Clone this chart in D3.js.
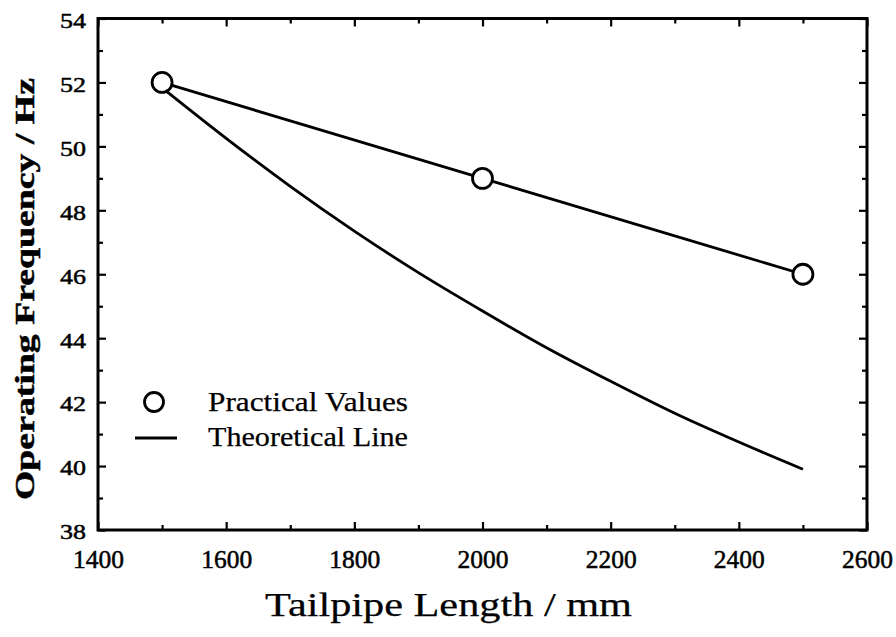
<!DOCTYPE html>
<html>
<head>
<meta charset="utf-8">
<script src="https://cdn.jsdelivr.net/npm/d3@7"></script>
<style>
  html, body { margin: 0; padding: 0; background: #fff; }
  svg { display: block; }
  svg text { font-family: "Liberation Serif", "Times New Roman", Times, Tinos, serif; fill: #000; stroke: #000; stroke-width: 0.5px; }
  svg text.big { stroke-width: 0.25px; }
</style>
</head>
<body>
<svg id="chart" width="896" height="637"></svg>
<script>
// ---- data ----
const xTicks = [1400, 1600, 1800, 2000, 2200, 2400, 2600];
const xMinorTicks = [1500, 1700, 1900, 2100, 2300, 2500];
const yTicks = [38, 40, 42, 44, 46, 48, 50, 52, 54];
const yMinorTicks = [39, 41, 43, 45, 47, 49, 51, 53];

const practicalLength = [1500, 2000, 2500];
const practicalFreq = [52, 49, 46];

const theoreticalLength = [1505, 1600, 1700, 1800, 1900, 2000, 2100, 2200, 2300, 2400, 2500];
const theoreticalFreq = [51.75, 50.25, 48.75, 47.35, 46.05, 44.85, 43.7, 42.65, 41.65, 40.75, 39.9];

const xTitle = "Tailpipe Length / mm";
const yTitle = "Operating Frequency / Hz";
const legendLabels = ["Practical Values", "Theoretical Line"];

// ---- layout ----
const FONT = '"Liberation Serif", "Times New Roman", Times, Tinos, serif';
const svg = d3.select("#chart");
const L = 98, R = 867, T = 18.5, B = 530;
const x = d3.scaleLinear().domain([1400, 2600]).range([L, R]);
const y = d3.scaleLinear().domain([38, 54]).range([B, T]);

const axisW = 3;
const lineW = 2.8;

function styleAxis(g) {
  g.attr("font-family", FONT);
  g.select(".domain").remove();
  g.selectAll(".tick line").attr("stroke", "#000").attr("stroke-width", 2.2);
}

// bottom major
svg.append("g").attr("transform", `translate(0,${B})`)
  .call(d3.axisBottom(x).tickValues(xTicks).tickSize(-8).tickFormat(d3.format("d")))
  .call(styleAxis)
  .call(g => g.selectAll("text").attr("y", 38).attr("dy", 0)
    .attr("textLength", 51).attr("lengthAdjust", "spacingAndGlyphs")
    .style("font-size", "25px"));
// bottom minor
svg.append("g").attr("transform", `translate(0,${B})`)
  .call(d3.axisBottom(x).tickValues(xMinorTicks).tickSize(-5).tickFormat(""))
  .call(styleAxis);
// top
svg.append("g").attr("transform", `translate(0,${T})`)
  .call(d3.axisTop(x).tickValues(xTicks).tickSize(-8).tickFormat(""))
  .call(styleAxis);
svg.append("g").attr("transform", `translate(0,${T})`)
  .call(d3.axisTop(x).tickValues(xMinorTicks).tickSize(-5).tickFormat(""))
  .call(styleAxis);
// left
svg.append("g").attr("transform", `translate(${L},0)`)
  .call(d3.axisLeft(y).tickValues(yTicks).tickSize(-8).tickFormat(d3.format("d")))
  .call(styleAxis)
  .call(g => g.selectAll("text").attr("x", -12).attr("dy", "0.4em")
    .attr("textLength", 26).attr("lengthAdjust", "spacingAndGlyphs")
    .style("font-size", "22px"));
svg.append("g").attr("transform", `translate(${L},0)`)
  .call(d3.axisLeft(y).tickValues(yMinorTicks).tickSize(-5).tickFormat(""))
  .call(styleAxis);
// right
svg.append("g").attr("transform", `translate(${R},0)`)
  .call(d3.axisRight(y).tickValues(yTicks).tickSize(-8).tickFormat(""))
  .call(styleAxis);
svg.append("g").attr("transform", `translate(${R},0)`)
  .call(d3.axisRight(y).tickValues(yMinorTicks).tickSize(-5).tickFormat(""))
  .call(styleAxis);

// frame
svg.append("rect")
  .attr("x", L).attr("y", T).attr("width", R - L).attr("height", B - T)
  .attr("fill", "none").attr("stroke", "#000").attr("stroke-width", axisW);

// practical line + markers
const practical = practicalLength.map((d, i) => [d, practicalFreq[i]]);
svg.append("path")
  .datum(practical)
  .attr("fill", "none").attr("stroke", "#000").attr("stroke-width", lineW)
  .attr("d", d3.line().x(d => x(d[0])).y(d => y(d[1])));
svg.selectAll("circle.pv").data(practical).enter().append("circle")
  .attr("class", "pv")
  .attr("cx", d => x(d[0])).attr("cy", d => y(d[1])).attr("r", 10)
  .attr("fill", "#fff").attr("stroke", "#000").attr("stroke-width", lineW);

// theoretical line
const theo = theoreticalLength.map((d, i) => [d, theoreticalFreq[i]]);
svg.append("path")
  .datum(theo)
  .attr("fill", "none").attr("stroke", "#000").attr("stroke-width", lineW)
  .attr("d", d3.line().curve(d3.curveMonotoneX).x(d => x(d[0])).y(d => y(d[1])));

// legend
svg.append("circle").attr("cx", 154).attr("cy", 402).attr("r", 9.5)
  .attr("fill", "#fff").attr("stroke", "#000").attr("stroke-width", lineW);
svg.append("line").attr("x1", 135).attr("x2", 177).attr("y1", 438).attr("y2", 438)
  .attr("stroke", "#000").attr("stroke-width", lineW);
svg.append("text").attr("class", "big").attr("x", 208).attr("y", 411).attr("font-family", FONT)
  .attr("textLength", 200).attr("lengthAdjust", "spacingAndGlyphs")
  .style("font-size", "28px").text(legendLabels[0]);
svg.append("text").attr("class", "big").attr("x", 208).attr("y", 446).attr("font-family", FONT)
  .attr("textLength", 200).attr("lengthAdjust", "spacingAndGlyphs")
  .style("font-size", "28px").text(legendLabels[1]);

// axis titles
svg.append("text").attr("class", "big").attr("x", 265).attr("y", 616).attr("font-family", FONT)
  .attr("textLength", 367).attr("lengthAdjust", "spacingAndGlyphs")
  .style("font-size", "34px").text(xTitle);
svg.append("text").attr("font-family", FONT)
  .attr("transform", "translate(34,500) rotate(-90)")
  .attr("x", 0).attr("y", 0)
  .attr("textLength", 422).attr("lengthAdjust", "spacingAndGlyphs")
  .style("font-size", "28px").style("font-weight", "bold").text(yTitle);
</script>
</body>
</html>
